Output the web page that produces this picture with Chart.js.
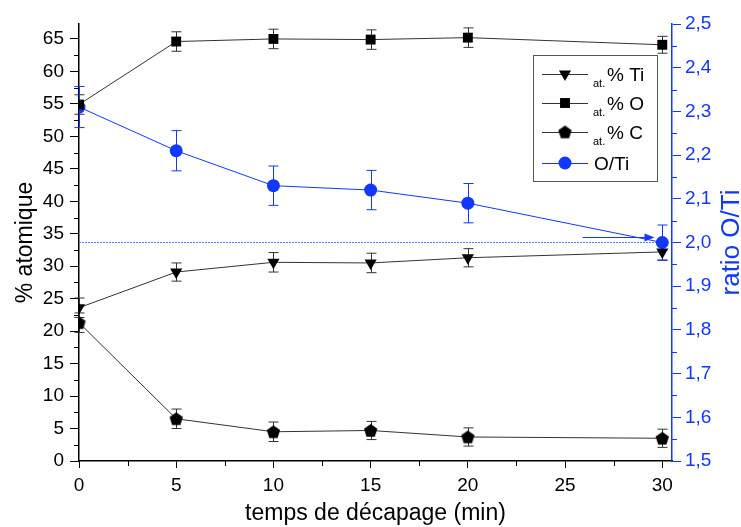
<!DOCTYPE html>
<html>
<head>
<meta charset="utf-8">
<script src="https://cdn.jsdelivr.net/npm/chart.js@4.4.0/dist/chart.umd.min.js"></script>
<style>
  html, body { margin: 0; padding: 0; background: #fff; }
  #wrap { width: 741px; height: 527px; }
</style>
</head>
<body>
<div id="wrap"><canvas id="chart" width="741" height="527"></canvas></div>
<script>
// data
const times = [0, 5, 10, 15, 20, 30];
const tiPct = [23.6, 29.1, 30.6, 30.5, 31.3, 32.2];
const oPct = [54.9, 64.6, 65.0, 64.9, 65.2, 64.1];
const cPct = [21.3, 6.5, 4.5, 4.7, 3.7, 3.5];
const ratioOTi = [2.31, 2.21, 2.13, 2.12, 2.09, 2.00];
const tiErr = [1.5, 1.4, 1.5, 1.5, 1.4, 1.3];
const oErr = [1.5, 1.5, 1.5, 1.5, 1.5, 1.3];
const cErr = [1.5, 1.5, 1.5, 1.4, 1.4, 1.4];
const ratioErr = [0.047, 0.046, 0.045, 0.045, 0.045, 0.04];
const refLine = { x: [0, 30], y: [2.0, 2.0] };
const arrow = { x: [25.9, 29.6], y: 2.012 };

const BLUE = '#1237ff';
const BLACK = '#000';
const font = 'Liberation Sans, Arial, sans-serif';

function pts(xs, ys) { return xs.map((x, i) => ({ x: x, y: ys[i] })); }

// pentagon marker (no built-in style)
const penta = document.createElement('canvas');
penta.width = 15; penta.height = 15;
(function () {
  const c = penta.getContext('2d');
  c.fillStyle = '#000';
  c.beginPath();
  for (let i = 0; i < 5; i++) {
    const a = -Math.PI / 2 + i * 2 * Math.PI / 5;
    const px = 7.5 + 7 * Math.cos(a), py = 8 + 7 * Math.sin(a);
    if (i === 0) c.moveTo(px, py); else c.lineTo(px, py);
  }
  c.closePath();
  c.fill();
})();

const errorBars = {
  id: 'errorBars',
  beforeDatasetsDraw(chart) {
    const ctx = chart.ctx;
    chart.data.datasets.forEach((ds) => {
      if (!ds.errors) return;
      const xs = chart.scales.x, ys = chart.scales[ds.yAxisID];
      ctx.save();
      ctx.strokeStyle = ds.errColor;
      ctx.lineWidth = 1;
      ds.data.forEach((p, i) => {
        const px = Math.round(xs.getPixelForValue(p.x)) + 0.5;
        const top = ys.getPixelForValue(p.y + ds.errors[i]);
        const bot = ys.getPixelForValue(p.y - ds.errors[i]);
        ctx.beginPath();
        ctx.moveTo(px, top); ctx.lineTo(px, bot);
        ctx.moveTo(px - 5, top); ctx.lineTo(px + 5, top);
        ctx.moveTo(px - 5, bot); ctx.lineTo(px + 5, bot);
        ctx.stroke();
      });
      ctx.restore();
    });
  }
};

const minorTicks = {
  id: 'minorTicks',
  afterDraw(chart) {
    const ctx = chart.ctx;
    const a = chart.chartArea;
    ctx.save();
    ctx.lineWidth = 1;
    const sx = chart.scales.x;
    ctx.strokeStyle = BLACK;
    for (let v = 2.5; v < 30; v += 5) {
      const p = Math.round(sx.getPixelForValue(v)) + 0.5;
      ctx.beginPath(); ctx.moveTo(p, a.bottom); ctx.lineTo(p, a.bottom + 5); ctx.stroke();
    }
    const sy = chart.scales.y;
    for (let v = 2.5; v < 67; v += 5) {
      const p = Math.round(sy.getPixelForValue(v)) + 0.5;
      ctx.beginPath(); ctx.moveTo(a.left, p); ctx.lineTo(a.left - 5, p); ctx.stroke();
    }
    const sr = chart.scales.y2;
    ctx.strokeStyle = BLUE;
    for (let v = 1.55; v < 2.5; v += 0.1) {
      const p = Math.round(sr.getPixelForValue(v)) + 0.5;
      ctx.beginPath(); ctx.moveTo(a.right, p); ctx.lineTo(a.right + 5, p); ctx.stroke();
    }
    // right axis title, reads bottom to top like the left one
    ctx.fillStyle = BLUE;
    ctx.font = '26px ' + font;
    ctx.textAlign = 'center';
    ctx.textBaseline = 'middle';
    ctx.translate(732, (a.top + a.bottom) / 2);
    ctx.rotate(-Math.PI / 2);
    ctx.fillText('ratio O/Ti', 0, 0);
    ctx.restore();
  }
};

const annot = {
  id: 'annot',
  afterDraw(chart) {
    const ctx = chart.ctx;
    const sx = chart.scales.x, sr = chart.scales.y2;
    const x1 = sx.getPixelForValue(arrow.x[0]), x2 = sx.getPixelForValue(arrow.x[1]);
    const y = Math.round(sr.getPixelForValue(arrow.y)) + 0.5;
    ctx.save();
    ctx.strokeStyle = BLUE; ctx.fillStyle = BLUE; ctx.lineWidth = 1;
    ctx.beginPath(); ctx.moveTo(x1, y); ctx.lineTo(x2 - 6, y); ctx.stroke();
    ctx.beginPath(); ctx.moveTo(x2, y); ctx.lineTo(x2 - 10, y - 4); ctx.lineTo(x2 - 10, y + 4); ctx.closePath(); ctx.fill();

    // legend box
    ctx.fillStyle = '#fff';
    ctx.fillRect(533, 55, 124, 126);
    ctx.strokeStyle = '#555'; ctx.lineWidth = 1;
    ctx.strokeRect(533.5, 55.5, 124, 126);
    const rows = [74, 103, 132, 163];
    chart.data.datasets.slice(0, 4).forEach((ds, i) => {
      const yy = rows[i];
      ctx.strokeStyle = ds.borderColor; ctx.lineWidth = 1;
      ctx.beginPath(); ctx.moveTo(542, yy + 0.5); ctx.lineTo(588, yy + 0.5); ctx.stroke();
      ctx.fillStyle = ds.pointBackgroundColor; ctx.strokeStyle = ds.pointBackgroundColor;
      Chart.helpers.drawPoint(ctx, { pointStyle: ds.pointStyle, rotation: ds.pointRotation || 0, radius: ds.pointRadius, borderWidth: 0 }, 565, yy);
      ctx.fillStyle = BLACK;
      ctx.textBaseline = 'alphabetic';
      if (ds.sub) {
        ctx.font = '11px ' + font;
        ctx.fillText(ds.sub, 593, yy + 13);
        ctx.font = '19px ' + font;
        ctx.fillText(ds.label, 607, yy + 7);
      } else {
        ctx.font = '19px ' + font;
        ctx.fillText(ds.label, 594, yy + 7);
      }
    });
    ctx.restore();
  }
};

new Chart(document.getElementById('chart'), {
  type: 'scatter',
  data: {
    datasets: [
      { label: '% Ti', sub: 'at.', data: pts(times, tiPct), errors: tiErr, errColor: '#333', yAxisID: 'y',
        showLine: true, borderColor: '#333', borderWidth: 1, pointStyle: 'triangle', pointRotation: 180,
        pointRadius: 7, pointBackgroundColor: BLACK, pointBorderWidth: 0 },
      { label: '% O', sub: 'at.', data: pts(times, oPct), errors: oErr, errColor: '#333', yAxisID: 'y',
        showLine: true, borderColor: '#333', borderWidth: 1, pointStyle: 'rect',
        pointRadius: 7, pointBackgroundColor: BLACK, pointBorderWidth: 0 },
      { label: '% C', sub: 'at.', data: pts(times, cPct), errors: cErr, errColor: '#333', yAxisID: 'y',
        showLine: true, borderColor: '#333', borderWidth: 1, pointStyle: penta,
        pointRadius: 7, pointBackgroundColor: BLACK, pointBorderWidth: 0 },
      { label: 'O/Ti', data: pts(times, ratioOTi), errors: ratioErr, errColor: BLUE, yAxisID: 'y2',
        showLine: true, borderColor: BLUE, borderWidth: 1, pointStyle: 'circle',
        pointRadius: 6.5, pointBackgroundColor: BLUE, pointBorderWidth: 0 },
      { label: 'ref', data: pts(refLine.x, refLine.y), yAxisID: 'y2', showLine: true,
        borderColor: 'rgba(60,90,255,0.8)', borderWidth: 1, borderDash: [2, 1], pointRadius: 0 }
    ]
  },
  options: {
    responsive: false,
    animation: false,
    layout: { padding: { top: 24 } },
    plugins: { legend: { display: false }, tooltip: { enabled: false } },
    scales: {
      x: {
        type: 'linear', min: 0, max: 30.5,
        afterFit: s => { s.height = 66; },
        border: { display: true, color: BLACK, width: 1.5 },
        grid: { drawOnChartArea: false, drawTicks: true, tickLength: 7, tickColor: BLACK },
        ticks: { stepSize: 5, includeBounds: false, color: BLACK, padding: 6, maxRotation: 0, font: { family: font, size: 19 } },
        title: { display: true, text: 'temps de décapage (min)', color: BLACK, padding: 0, font: { family: font, size: 23 } }
      },
      y: {
        type: 'linear', position: 'left', min: 0, max: 67.3,
        afterFit: s => { s.width = 79; },
        border: { display: true, color: BLACK, width: 1.5 },
        grid: { drawOnChartArea: false, drawTicks: true, tickLength: 9, tickColor: BLACK },
        ticks: { stepSize: 5, includeBounds: false, color: BLACK, padding: 6, font: { family: font, size: 19 } },
        title: { display: true, text: '% atomique', color: BLACK, padding: 12, font: { family: font, size: 23 } }
      },
      y2: {
        type: 'linear', position: 'right', min: 1.5, max: 2.5,
        afterFit: s => { s.width = 69; },
        border: { display: true, color: BLUE, width: 1.5 },
        grid: { drawOnChartArea: false, drawTicks: true, tickLength: 9, tickColor: BLUE },
        ticks: { stepSize: 0.1, color: BLUE, padding: 4, font: { family: font, size: 19 },
          callback: v => v.toFixed(1).replace('.', ',') },
        title: { display: false }
      }
    }
  },
  plugins: [errorBars, minorTicks, annot]
});
</script>
</body>
</html>
